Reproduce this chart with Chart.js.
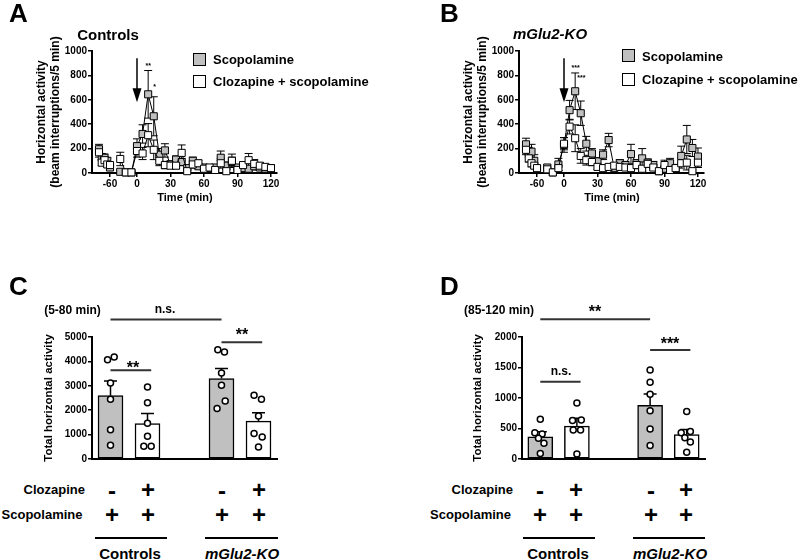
<!DOCTYPE html>
<html><head><meta charset="utf-8">
<script src="https://cdn.jsdelivr.net/npm/chart.js"></script>
<style>
body{margin:0;width:800px;height:560px;background:#fff;position:relative;overflow:hidden;font-family:"Liberation Sans",Arial,Helvetica,sans-serif;font-weight:bold;color:#000}
.cv{position:absolute}
.t{position:absolute;transform:translate(-50%,-50%);line-height:1;white-space:nowrap}
.r{position:absolute;transform:translate(-100%,-50%);line-height:1;white-space:nowrap}
.l{position:absolute;transform:translate(0,-50%);line-height:1;white-space:nowrap}
.let{position:absolute;font-size:26px;line-height:1}
.hl{position:absolute;height:2px;background:#000}
.sq{position:absolute;width:13px;height:13px;box-sizing:border-box;border:1.5px solid #000}
i{font-style:italic}
</style></head><body>

<div class="cv" style="left:0;top:0"><canvas id="cA" width="300" height="200"></canvas></div>
<div class="cv" style="left:427px;top:0"><canvas id="cB" width="300" height="200"></canvas></div>
<div class="cv" style="left:0;top:300px"><canvas id="cC" width="290" height="170"></canvas></div>
<div class="cv" style="left:430px;top:300px"><canvas id="cD" width="288" height="170"></canvas></div>

<!-- Panel A texts -->
<div class="let" style="left:9px;top:0">A</div>
<div class="t" style="left:108px;top:33.5px;font-size:15px">Controls</div>
<div class="sq" style="left:193px;top:53px;background:#c0c0c0"></div>
<div class="sq" style="left:193px;top:75px;background:#fff"></div>
<div class="l" style="left:213px;top:59px;font-size:13px">Scopolamine</div>
<div class="l" style="left:213px;top:81px;font-size:13px">Clozapine + scopolamine</div>
<div class="t" style="left:185px;top:197px;font-size:11px">Time (min)</div>

<!-- Panel B texts -->
<div class="let" style="left:440px;top:0">B</div>
<div class="t" style="left:550px;top:33px;font-size:15px"><i>mGlu2-KO</i></div>
<div class="sq" style="left:622px;top:49px;background:#c0c0c0"></div>
<div class="sq" style="left:622px;top:72.5px;background:#fff"></div>
<div class="l" style="left:642px;top:55.5px;font-size:13px">Scopolamine</div>
<div class="l" style="left:642px;top:79px;font-size:13px">Clozapine + scopolamine</div>
<div class="t" style="left:612px;top:197px;font-size:11px">Time (min)</div>

<!-- Panel C texts -->
<div class="let" style="left:9px;top:273px">C</div>
<div class="t" style="left:72.5px;top:310px;font-size:12px">(5-80 min)</div>
<div class="t" style="left:165px;top:309px;font-size:12px">n.s.</div>
<div class="t" style="left:133px;top:368px;font-size:16px">**</div>
<div class="t" style="left:242px;top:335px;font-size:16px">**</div>
<div class="r" style="left:85px;top:489px;font-size:13px">Clozapine</div>
<div class="r" style="left:82.5px;top:514px;font-size:13px">Scopolamine</div>
<div class="t" style="left:112px;top:491px;font-size:24px">-</div>
<div class="t" style="left:148px;top:490px;font-size:24px">+</div>
<div class="t" style="left:222px;top:491px;font-size:24px">-</div>
<div class="t" style="left:259px;top:490px;font-size:24px">+</div>
<div class="t" style="left:112px;top:515px;font-size:24px">+</div>
<div class="t" style="left:148px;top:515px;font-size:24px">+</div>
<div class="t" style="left:222px;top:515px;font-size:24px">+</div>
<div class="t" style="left:259px;top:515px;font-size:24px">+</div>
<div class="hl" style="left:95px;width:72px;top:536.5px"></div>
<div class="hl" style="left:205px;width:73px;top:536.5px"></div>
<div class="t" style="left:130px;top:553px;font-size:15px">Controls</div>
<div class="t" style="left:242px;top:553px;font-size:15px"><i>mGlu2-KO</i></div>

<!-- Panel D texts -->
<div class="let" style="left:440px;top:273px">D</div>
<div class="t" style="left:499px;top:310px;font-size:12px">(85-120 min)</div>
<div class="t" style="left:595px;top:312px;font-size:16px">**</div>
<div class="t" style="left:561px;top:371px;font-size:12px">n.s.</div>
<div class="t" style="left:670px;top:344px;font-size:16px">***</div>
<div class="r" style="left:513px;top:489px;font-size:13px">Clozapine</div>
<div class="r" style="left:511px;top:514px;font-size:13px">Scopolamine</div>
<div class="t" style="left:540px;top:491px;font-size:24px">-</div>
<div class="t" style="left:576px;top:490px;font-size:24px">+</div>
<div class="t" style="left:651px;top:491px;font-size:24px">-</div>
<div class="t" style="left:686px;top:490px;font-size:24px">+</div>
<div class="t" style="left:540px;top:515px;font-size:24px">+</div>
<div class="t" style="left:576px;top:515px;font-size:24px">+</div>
<div class="t" style="left:651px;top:515px;font-size:24px">+</div>
<div class="t" style="left:686px;top:515px;font-size:24px">+</div>
<div class="hl" style="left:523px;width:72px;top:536.5px"></div>
<div class="hl" style="left:633px;width:72px;top:536.5px"></div>
<div class="t" style="left:558px;top:553px;font-size:15px">Controls</div>
<div class="t" style="left:670px;top:553px;font-size:15px"><i>mGlu2-KO</i></div>

<script>
// ---------- DATA ----------
// Time-course panels (A, B): time points in minutes
const timePre = [-80, -75, -70, -65, -60];
const timePost = [-15, -10, -5, 0, 5, 10, 15, 20, 25, 30, 35, 40, 45, 50, 55, 60, 65, 70, 75, 80, 85, 90, 95, 100, 105, 110, 115, 120];
const xTicksPre = [-60];
const xTicksPost = [0, 30, 60, 90, 120];
const yTicksTime = [0, 200, 400, 600, 800, 1000];

// Panel A (Controls)
const scopA_pre = [195, 130, 125, 100, 45];
const scopA_preErr = [40, 30, 30, 25, 20];
const clozA_pre = [170, 85, 105, 70, 65];
const clozA_preErr = [40, 25, 30, 20, 20];
const scopA_post = [10, 5, 5, 220, 320, 645, 465, 150, 185, 70, 110, 90, 40, 100, 55, 45, 40, 45, 125, 60, 90, 45, 40, 35, 55, 45, 35, 40];
const scopA_postErr = [10, 5, 5, 60, 75, 195, 160, 50, 55, 30, 30, 30, 20, 30, 20, 20, 20, 20, 55, 30, 40, 20, 20, 20, 30, 20, 20, 20];
const clozA_post = [115, 5, 5, 180, 160, 310, 190, 100, 65, 60, 60, 165, 15, 70, 80, 35, 45, 25, 80, 15, 100, 25, 65, 105, 75, 60, 50, 40];
const clozA_postErr = [55, 5, 5, 50, 50, 95, 80, 40, 30, 20, 25, 65, 15, 30, 25, 20, 20, 15, 40, 15, 55, 15, 25, 55, 35, 25, 20, 20];

// Panel B (mGlu2-KO)
const scopB_pre = [235, 170, 175, 100, 35];
const scopB_preErr = [50, 40, 60, 50, 20];
const clozB_pre = [190, 120, 80, 60, 40];
const clozB_preErr = [40, 30, 30, 20, 15];
const scopB_post = [45, 5, 70, 230, 515, 670, 490, 240, 160, 95, 150, 270, 40, 80, 65, 155, 80, 120, 85, 65, 15, 35, 80, 40, 140, 275, 205, 135];
const scopB_postErr = [20, 5, 50, 60, 80, 150, 100, 60, 40, 30, 40, 55, 20, 30, 30, 80, 30, 80, 30, 30, 15, 20, 40, 30, 80, 115, 70, 70];
const clozB_post = [30, 5, 40, 240, 380, 285, 140, 105, 90, 50, 40, 50, 60, 50, 45, 40, 65, 35, 75, 45, 15, 65, 25, 40, 80, 85, 15, 85];
const clozB_postErr = [15, 5, 20, 50, 60, 110, 60, 40, 30, 20, 20, 20, 20, 20, 20, 20, 30, 20, 30, 20, 10, 40, 20, 30, 40, 60, 10, 40];

// Annotations on time-course panels (significance marks)
const starsA = [{t: 10, v: 877, text: '**'}, {t: 15.8, v: 702, text: '*'}];
const starsB = [{t: 10.4, v: 858, text: '***'}, {t: 15.5, v: 776, text: '***'}];

// Bar panels (C, D): groups = Controls/Scop, Controls/Cloz+Scop, mGlu2-KO/Scop, mGlu2-KO/Cloz+Scop
const barGroups = ['Controls Scopolamine', 'Controls Clozapine + scopolamine', 'mGlu2-KO Scopolamine', 'mGlu2-KO Clozapine + scopolamine'];
const groupIndex = [0, 1, 3, 4];
const yTicksC = [0, 1000, 2000, 3000, 4000, 5000];
const yTicksD = [0, 500, 1000, 1500, 2000];

const meanC = [2600, 1450, 3300, 1550];
const semC = [600, 410, 410, 350];
const ptsC = [[4070, 4180, 3110, 2450, 1200, 560], [2950, 2310, 1470, 930, 520, 520], [4480, 4390, 3520, 3020, 2380, 2070], [2610, 2450, 1760, 1040, 900, 490]];
const jitC = [[-0.08, 0.1, 0, 0, 0, 0], [0, 0, 0, 0, -0.1, 0.1], [-0.1, 0.08, 0, 0, 0.1, -0.12], [-0.12, 0.08, 0, -0.12, 0.1, 0]];
const bracketsC = [{from: 0, to: 3, y: 5713}, {from: 0, to: 1.1, y: 3635}, {from: 3, to: 4.1, y: 4782}];

const meanD = [365, 540, 880, 400];
const semD = [80, 130, 185, 85];
const ptsD = [[650, 430, 410, 340, 260, 90], [920, 630, 640, 475, 475, 80], [1460, 1260, 1060, 790, 490, 220], [780, 430, 450, 350, 280, 110]];
const jitD = [[0, -0.15, 0.05, -0.05, 0.1, 0], [0, -0.12, 0.12, -0.1, 0.1, 0], [0, 0, 0, 0, 0, 0], [0, -0.15, 0.1, -0.05, 0.1, 0]];
const bracketsD = [{from: 0, to: 3, y: 2290}, {from: 0, to: 1.1, y: 1267}, {from: 3, to: 4.1, y: 1787}];

// ---------- STYLE / LIBRARY SETUP ----------
const FONT = '"Liberation Sans", Arial, Helvetica, sans-serif';
Chart.defaults.font.family = FONT;
Chart.defaults.font.weight = 'bold';
Chart.defaults.color = '#000';
Chart.defaults.animation = false;
const GRAY = '#c0c0c0';
const plain = v => String(v);

const errPlugin = {
  id: 'errbars',
  beforeDatasetsDraw(chart) {
    const ctx = chart.ctx;
    chart.data.datasets.forEach((ds, di) => {
      if (!ds.errors) return;
      const meta = chart.getDatasetMeta(di);
      const ys = chart.scales[meta.yAxisID];
      ctx.save();
      ctx.strokeStyle = '#000';
      ctx.lineWidth = ds.errLineWidth || 1;
      meta.data.forEach((el, i) => {
        const raw = ds.data[i];
        const v = (raw !== null && typeof raw === 'object') ? raw.y : raw;
        const e = ds.errors[i];
        if (v == null || e == null) return;
        const x = el.x;
        const yc = ys.getPixelForValue(v);
        const yUp = ys.getPixelForValue(v + e);
        const yDn = ds.errDown ? ys.getPixelForValue(Math.max(v - e, 0)) : yc;
        const h = ds.capHalf;
        ctx.beginPath();
        ctx.moveTo(x, yDn); ctx.lineTo(x, yUp);
        ctx.moveTo(x - h, yUp); ctx.lineTo(x + h, yUp);
        if (ds.errDown && v - e > 0) { ctx.moveTo(x - h, yDn); ctx.lineTo(x + h, yDn); }
        ctx.stroke();
      });
      ctx.restore();
    });
  }
};

function timeAnno(stars) {
  return {
    id: 'tanno',
    afterDatasetsDraw(chart) {
      const xs = chart.scales.xPost, ys = chart.scales.y, ctx = chart.ctx;
      const x = xs.getPixelForValue(0);
      const y1 = ys.getPixelForValue(940), y2 = ys.getPixelForValue(580);
      ctx.save();
      ctx.strokeStyle = '#000'; ctx.fillStyle = '#000'; ctx.lineWidth = 1.5;
      ctx.beginPath(); ctx.moveTo(x, y1); ctx.lineTo(x, y2 - 10); ctx.stroke();
      ctx.beginPath(); ctx.moveTo(x - 4.5, y2 - 14); ctx.lineTo(x + 4.5, y2 - 14); ctx.lineTo(x, y2); ctx.closePath(); ctx.fill();
      ctx.font = 'bold 7px ' + FONT; ctx.textAlign = 'center'; ctx.textBaseline = 'middle';
      stars.forEach(s => ctx.fillText(s.text, xs.getPixelForValue(s.t), ys.getPixelForValue(s.v)));
      ctx.restore();
    }
  };
}

function bracketPlugin(list) {
  return {
    id: 'brackets',
    afterDatasetsDraw(chart) {
      const xs = chart.scales.x, ys = chart.scales.y, ctx = chart.ctx;
      ctx.save(); ctx.strokeStyle = '#333'; ctx.lineWidth = 2;
      list.forEach(b => {
        const y = ys.getPixelForValue(b.y);
        ctx.beginPath(); ctx.moveTo(xs.getPixelForValue(b.from), y); ctx.lineTo(xs.getPixelForValue(b.to), y); ctx.stroke();
      });
      ctx.restore();
    }
  };
}

function lineSet(label, ts, vs, es, axis, fill, order) {
  return {
    type: 'line', label, data: ts.map((t, i) => ({x: t, y: vs[i]})), errors: es, errDown: true, capHalf: 4,
    xAxisID: axis, yAxisID: 'y', order,
    borderColor: '#000', borderWidth: 1, tension: 0, fill: false, clip: false,
    pointStyle: 'rect', pointRadius: 5, pointHoverRadius: 5,
    pointBackgroundColor: fill, pointBorderColor: '#000', pointBorderWidth: 1
  };
}

function timeChart(id, d, stars) {
  const tickFont = {size: 10, weight: 'bold', family: FONT};
  const xCommon = {
    type: 'linear', position: 'bottom', stack: 'time', offset: false,
    afterFit: s => { s.height = 20; },
    ticks: {font: tickFont, padding: 1, maxRotation: 0, autoSkip: false, color: '#000', callback: plain},
    grid: {drawOnChartArea: false, tickLength: 4, color: '#000', lineWidth: 1.5},
    border: {color: '#000', width: 2}
  };
  new Chart(document.getElementById(id), {
    type: 'line',
    data: {datasets: [
      lineSet('Scopolamine', timePre, d.sPre, d.sPreE, 'xPre', GRAY, 1),
      lineSet('Scopolamine', timePost, d.sPost, d.sPostE, 'xPost', GRAY, 1),
      lineSet('Clozapine + scopolamine', timePre, d.cPre, d.cPreE, 'xPre', '#fff', 0),
      lineSet('Clozapine + scopolamine', timePost, d.cPost, d.cPostE, 'xPost', '#fff', 0)
    ]},
    options: {
      responsive: false, animation: false,
      layout: {padding: {top: 51, right: 23, bottom: 7, left: 0}},
      plugins: {legend: {display: false}, tooltip: {enabled: false}},
      scales: {
        xPre: Object.assign({}, xCommon, {min: -92.7, max: -47.5, stackWeight: 24.9,
          afterBuildTicks: s => { s.ticks = xTicksPre.map(v => ({value: v})); }}),
        xPost: Object.assign({}, xCommon, {min: -18, max: 125.4, stackWeight: 160.1,
          afterBuildTicks: s => { s.ticks = xTicksPost.map(v => ({value: v})); }}),
        y: {
          min: 0, max: 1000,
          afterBuildTicks: s => { s.ticks = yTicksTime.map(v => ({value: v})); },
          afterFit: s => { s.width = 92; },
          ticks: {font: tickFont, padding: 1, color: '#000', callback: plain},
          grid: {drawOnChartArea: false, tickLength: 4, color: '#000', lineWidth: 1.5},
          border: {color: '#000', width: 2},
          title: {display: true, text: ['Horizontal activity', '(beam interruptions/5 min)'], color: '#000',
            font: {size: 12, weight: 'bold', family: FONT, lineHeight: 1.1}, padding: {top: 35.4, bottom: 0}}
        }
      }
    },
    plugins: [errPlugin, timeAnno(stars)]
  });
}

function barChart(id, means, sems, pts, jit, yTicks, yMax, brackets, titlePad) {
  const tickFont = {size: 10, weight: 'bold', family: FONT};
  const scatter = [];
  pts.forEach((vals, g) => vals.forEach((v, k) => scatter.push({x: groupIndex[g] + jit[g][k], y: v})));
  const bars = means.map((m, g) => ({x: groupIndex[g], y: m}));
  new Chart(document.getElementById(id), {
    type: 'scatter',
    data: {datasets: [
      {type: 'scatter', label: 'individual animals', data: scatter, xAxisID: 'x', yAxisID: 'y', order: 0, clip: false,
        pointStyle: 'circle', pointRadius: 3, pointHoverRadius: 3, pointBorderWidth: 1.5,
        pointBackgroundColor: '#fff', pointBorderColor: '#000'},
      {type: 'bar', label: 'mean', data: bars, errors: sems, errDown: false, capHalf: 6.5, errLineWidth: 1.5,
        xAxisID: 'x', yAxisID: 'y', order: 1, grouped: false, barThickness: 25,
        backgroundColor: [GRAY, '#fff', GRAY, '#fff'], borderColor: '#000', borderWidth: 1.5,
        borderSkipped: false}
    ]},
    options: {
      responsive: false, animation: false,
      layout: {padding: {top: 37, right: 13, bottom: 5, left: 0}},
      plugins: {legend: {display: false}, tooltip: {enabled: false}},
      scales: {
        x: {type: 'linear', position: 'bottom', min: -0.5, max: 4.5, offset: false,
          afterFit: s => { s.height = 6; },
          ticks: {display: false}, grid: {display: false, drawTicks: false},
          border: {display: true, color: '#000', width: 2}},
        y: {
          type: 'linear', min: 0, max: yMax,
          afterBuildTicks: s => { s.ticks = yTicks.map(v => ({value: v})); },
          afterFit: s => { s.width = 92; },
          ticks: {font: tickFont, padding: 1, color: '#000', callback: plain},
          grid: {drawOnChartArea: false, tickLength: 4, color: '#000', lineWidth: 1.5},
          border: {color: '#000', width: 2},
          title: {display: true, text: 'Total horizontal activity', color: '#000',
            font: {size: 11.5, weight: 'bold', family: FONT, lineHeight: 1.2}, padding: {top: titlePad, bottom: 0}}
        }
      }
    },
    plugins: [errPlugin, bracketPlugin(brackets)]
  });
}

timeChart('cA', {sPre: scopA_pre, sPreE: scopA_preErr, sPost: scopA_post, sPostE: scopA_postErr,
  cPre: clozA_pre, cPreE: clozA_preErr, cPost: clozA_post, cPostE: clozA_postErr}, starsA);
timeChart('cB', {sPre: scopB_pre, sPreE: scopB_preErr, sPost: scopB_post, sPostE: scopB_postErr,
  cPre: clozB_pre, cPreE: clozB_preErr, cPost: clozB_post, cPostE: clozB_postErr}, starsB);
barChart('cC', meanC, semC, ptsC, jitC, yTicksC, 5000, bracketsC, 41.5);
barChart('cD', meanD, semD, ptsD, jitD, yTicksD, 2000, bracketsD, 40.6);
</script>
</body></html>
